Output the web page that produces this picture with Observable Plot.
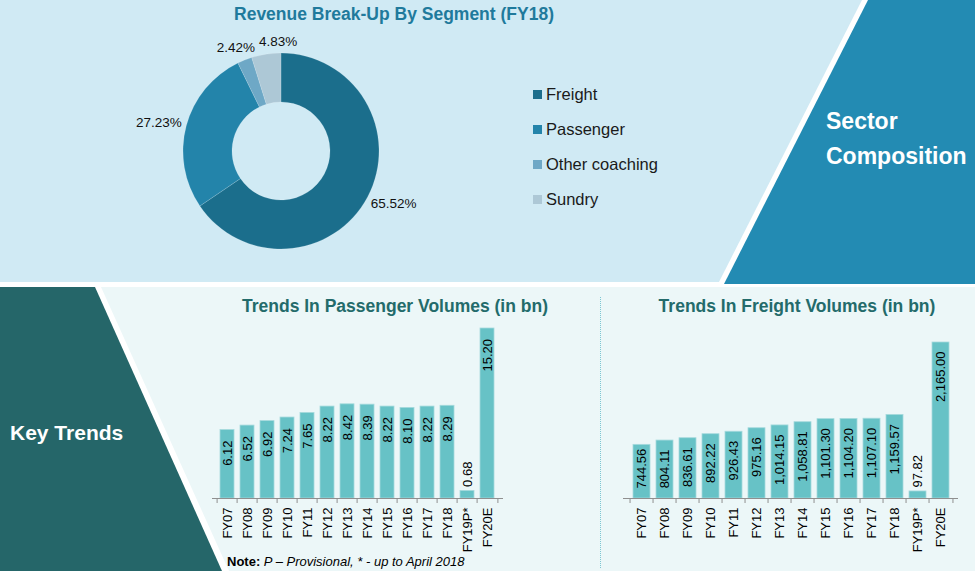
<!DOCTYPE html>
<html>
<head>
<meta charset="utf-8">
<script src="https://cdn.jsdelivr.net/npm/d3@7"></script>
<script src="https://cdn.jsdelivr.net/npm/@observablehq/plot@0.6"></script>
<style>
  body { margin: 0; background: #fff; }
  #root { position: relative; width: 975px; height: 571px; overflow: hidden; background: #fff;
          font-family: "Liberation Sans", Arial, sans-serif; }
  .abs { position: absolute; }
  .shape { position: absolute; left: 0; top: 0; width: 975px; height: 571px; }
  .title { position: absolute; font-weight: bold; font-size: 17.5px; line-height: 20px; text-align: center; white-space: nowrap; }
</style>
</head>
<body>
<div id="root"></div>
<script>
// ---------------- DATA ----------------
const segments = ["Freight", "Passenger", "Other coaching", "Sundry"];
const segmentShares = [65.52, 27.23, 2.42, 4.83];

const years = ["FY07", "FY08", "FY09", "FY10", "FY11", "FY12", "FY13", "FY14", "FY15", "FY16", "FY17", "FY18", "FY19P*", "FY20E"];
const passengerVolumes = [6.12, 6.52, 6.92, 7.24, 7.65, 8.22, 8.42, 8.39, 8.22, 8.10, 8.22, 8.29, 0.68, 15.20];
const freightVolumes = [744.56, 804.11, 836.61, 892.22, 926.43, 975.16, 1014.15, 1058.81, 1101.30, 1104.20, 1107.10, 1159.57, 97.82, 2165.00];

// ---------------- STYLE ----------------
const segmentPalette = ["#1b6e8c", "#2384aa", "#6ea8c6", "#adc8d6"];
const barFill = "#67c2c6";
const FONT = "'Liberation Sans', Arial, sans-serif";

const root = document.getElementById("root");
const ctx = document.createElement("canvas").getContext("2d");
function textWidth(s, size, weight = "normal") {
  ctx.font = `${weight} ${size}px 'Liberation Sans', Arial, sans-serif`;
  return ctx.measureText(s).width;
}
function shape(points, color) {
  const d = document.createElement("div");
  d.className = "shape";
  d.style.background = color;
  d.style.clipPath = `polygon(${points.map(p => p[0] + "px " + p[1] + "px").join(",")})`;
  root.append(d);
}
function place(el, left, top) {
  el.style.position = "absolute";
  el.style.left = left + "px";
  el.style.top = top + "px";
  root.append(el);
  return el;
}
function html(tag, cls, text, css) {
  const e = document.createElement(tag);
  if (cls) e.className = cls;
  if (text != null) e.textContent = text;
  if (css) e.style.cssText = css;
  return e;
}

// ---------------- BACKGROUND PANELS ----------------
shape([[0,0],[975,0],[975,282],[0,282]], "#d0eaf4");
shape([[862,0],[975,0],[975,284],[718,284]], "#ffffff");
shape([[868,0],[975,0],[975,284],[724,284]], "#238bb3");
shape([[0,287],[975,287],[975,571],[0,571]], "#ecf7f8");
shape([[0,287],[101,287],[229,571],[0,571]], "#ffffff");
shape([[0,287],[95,287],[222,571],[0,571]], "#256669");

// Panel labels
root.append(html("div", "abs", "Sector", `left:826px;top:107px;font-weight:bold;font-size:23px;color:#fff;line-height:28px;`));
root.append(html("div", "abs", "Composition", `left:826px;top:142px;font-weight:bold;font-size:23px;color:#fff;line-height:28px;`));
root.append(html("div", "abs", "Key Trends", `left:10px;top:419px;font-weight:bold;font-size:21px;color:#fff;line-height:28px;`));

// ---------------- DONUT ----------------
root.append(html("div", "title", "Revenue Break-Up By Segment (FY18)", `left:94px;width:600px;top:4px;color:#1f7a9c;`));

const donutData = segments.map((segment, i) => ({segment, share: segmentShares[i]}));
const arcs = d3.pie().sort(null).value(d => d.share)(donutData);
const R = 98, R0 = 49;
const pctSize = 13.5;
const pctLabels = arcs.map(a => {
  const m = (a.startAngle + a.endAngle) / 2;
  const s = Math.sin(m), c = Math.cos(m);
  const text = a.data.share.toFixed(2) + "%";
  const w = textWidth(text, pctSize);
  const h = 15;
  return {text, w, h, x: (R + 6) * s + (w / 2) * s, y: (R + 6) * c + (h / 2) * c};
});
// simple dodge so labels of neighbouring thin slices do not overlap
for (let i = 0; i < pctLabels.length; i++) {
  for (let j = 0; j < i; j++) {
    const a = pctLabels[i], b = pctLabels[j];
    const minDx = (a.w + b.w) / 2 + 4;
    if (Math.abs(a.x - b.x) < minDx && Math.abs(a.y - b.y) < a.h) {
      a.x = a.x >= b.x ? b.x + minDx : b.x - minDx;
    }
  }
}

const donut = Plot.plot({
  width: 400, height: 240, margin: 0,
  x: {domain: [-200, 200], axis: null},
  y: {domain: [-120, 120], axis: null},
  style: {background: "transparent", fontFamily: FONT, overflow: "visible"},
  marks: [
    (index, scales) => {
      const {x, y} = scales;
      const k = x(1) - x(0);
      const g = d3.create("svg:g").attr("transform", `translate(${x(0)},${y(0)})`);
      g.selectAll("path").data(arcs).join("path")
        .attr("d", d3.arc().innerRadius(R0 * k).outerRadius(R * k))
        .attr("fill", (d, i) => segmentPalette[i])
        .attr("stroke", "rgba(255,255,255,0.25)")
        .attr("stroke-width", 0.6);
      return g.node();
    },
    Plot.text(pctLabels, {x: "x", y: "y", text: "text", fontSize: pctSize, fill: "#111"})
  ]
});
place(donut, 81, 31);

// Legend
segments.forEach((s, i) => {
  const cy = 94 + i * 35;
  root.append(html("div", "abs", null, `left:533px;top:${cy - 4.5}px;width:9px;height:9px;background:${segmentPalette[i]};`));
  root.append(html("div", "abs", s, `left:546px;top:${cy - 10}px;font-size:16.5px;line-height:20px;color:#1a1a1a;white-space:nowrap;`));
});

// ---------------- BAR CHARTS ----------------
const fmt = d3.format(",.2f");
const labelSize = 13;

function barChart(values, {width, height, marginLeft, marginRight, marginTop, marginBottom, gap}) {
  const data = years.map((year, i) => ({year, value: values[i], label: fmt(values[i])}));
  const yMax = d3.max(values);
  const ppu = (height - marginTop - marginBottom) / yMax;
  const step = (width - marginLeft - marginRight) / years.length;
  data.forEach(d => {
    d.w = textWidth(d.label, labelSize);
    d.inside = d.value * ppu > d.w + 8;
    d.ly = Math.max(d.value - gap / ppu, (d.w + 10) / ppu);
  });
  return Plot.plot({
    width, height, marginLeft, marginRight, marginTop, marginBottom,
    x: {domain: years, paddingInner: 0.28, paddingOuter: 0.14, axis: null},
    y: {domain: [0, yMax], axis: null},
    style: {background: "transparent", fontFamily: FONT, color: "#000", overflow: "visible"},
    marks: [
      Plot.barY(data, {x: "year", y: "value", fill: barFill, stroke: "#a6dadd", strokeWidth: 0.8}),
      Plot.ruleY([0], {stroke: "#8f8f8f", strokeWidth: 1.2}),
      Plot.axisX({tickSize: 5, dx: -step / 2, tickFormat: () => "", stroke: "#8f8f8f", label: null}),
      Plot.axisX([years[years.length - 1]], {tickSize: 5, dx: step / 2, tickFormat: () => "", stroke: "#8f8f8f", label: null}),
      Plot.axisX({tickSize: 0, tickPadding: 9, tickRotate: -90, fontSize: 13, fill: "#000", label: null}),
      Plot.text(data.filter(d => d.inside), {x: "year", y: "ly", text: "label", rotate: -90, textAnchor: "end", lineAnchor: "middle", fontSize: labelSize, fill: "#000"}),
      Plot.text(data.filter(d => !d.inside), {x: "year", y: "value", text: "label", rotate: -90, textAnchor: "start", lineAnchor: "middle", dy: -4, fontSize: labelSize, fill: "#000"})
    ]
  });
}

// Passenger
root.append(html("div", "title", "Trends In Passenger Volumes (in bn)", `left:195px;width:400px;top:296px;color:#236b6b;`));
place(barChart(passengerVolumes, {width: 320, height: 271, marginLeft: 12, marginRight: 17, marginTop: 28, marginBottom: 73, gap: 10.5}), 200, 300);

// Freight
root.append(html("div", "title", "Trends In Freight Volumes (in bn)", `left:597px;width:400px;top:296px;color:#236b6b;`));
place(barChart(freightVolumes, {width: 365, height: 271, marginLeft: 13, marginRight: 17, marginTop: 42, marginBottom: 73, gap: 9}), 610, 300);

// Separator
root.append(html("div", "abs", null, `left:600px;top:297px;height:271px;border-left:1px dotted #7cc6d2;`));

// Note
const note = html("div", "abs", null, `left:227px;top:553px;font-size:13px;line-height:17px;color:#000;white-space:nowrap;`);
note.innerHTML = "<b>Note:</b> <i>P – Provisional, * - up to April 2018</i>";
root.append(note);
</script>
</body>
</html>
